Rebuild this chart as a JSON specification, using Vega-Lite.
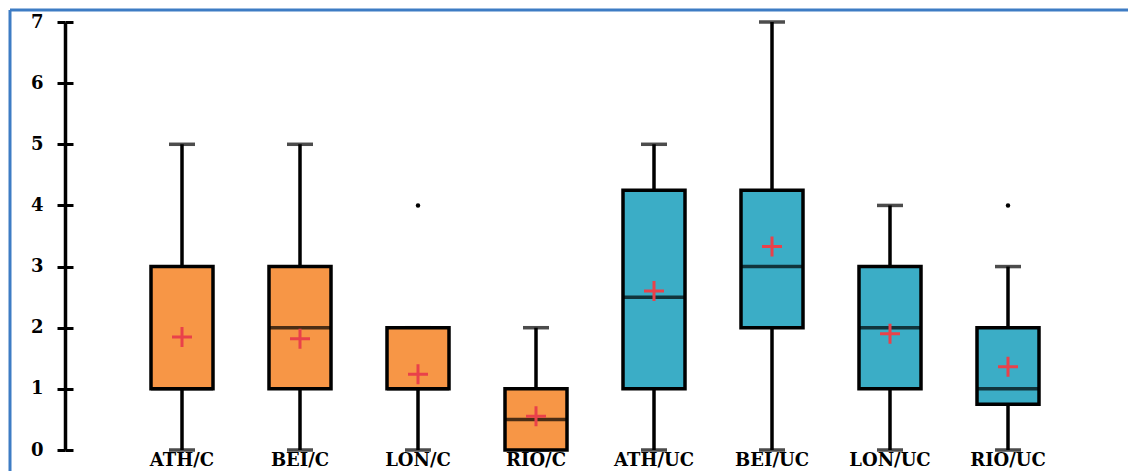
{
  "$schema": "https://vega.github.io/schema/vega-lite/v6.json",
  "autosize": "none",
  "padding": {"left": 10, "top": 10, "right": 0, "bottom": 0},
  "width": 1118,
  "height": 461,
  "background": "white",
  "config": {
    "view": {"stroke": "#3E7CC4", "strokeWidth": 3, "strokeDash": [1118, 1579, 461, 0]},
    "axis": {"labelFont": "DejaVu Serif", "labelFontWeight": "bold", "labelColor": "black", "grid": false, "title": null}
  },
  "datasets": {
    "stats": [
      {"cat": "ATH/C", "grp": "C", "min": 0, "q1": 1, "median": 1, "q3": 3, "max": 5, "mean": 1.85},
      {"cat": "BEI/C", "grp": "C", "min": 0, "q1": 1, "median": 2, "q3": 3, "max": 5, "mean": 1.82},
      {"cat": "LON/C", "grp": "C", "min": 0, "q1": 1, "median": 1, "q3": 2, "max": 2, "mean": 1.24},
      {"cat": "RIO/C", "grp": "C", "min": 0, "q1": 0, "median": 0.5, "q3": 1, "max": 2, "mean": 0.55},
      {"cat": "ATH/UC", "grp": "UC", "min": 0, "q1": 1, "median": 2.5, "q3": 4.25, "max": 5, "mean": 2.6},
      {"cat": "BEI/UC", "grp": "UC", "min": 0, "q1": 2, "median": 3, "q3": 4.25, "max": 7, "mean": 3.33},
      {"cat": "LON/UC", "grp": "UC", "min": 0, "q1": 1, "median": 2, "q3": 3, "max": 4, "mean": 1.9},
      {"cat": "RIO/UC", "grp": "UC", "min": 0, "q1": 0.75, "median": 1, "q3": 2, "max": 3, "mean": 1.36}
    ],
    "outliers": [
      {"cat": "LON/C", "value": 4},
      {"cat": "RIO/UC", "value": 4}
    ]
  },
  "data": {"name": "stats"},
  "encoding": {
    "x": {
      "field": "cat", "type": "nominal",
      "sort": ["ATH/C", "BEI/C", "LON/C", "RIO/C", "ATH/UC", "BEI/UC", "LON/UC", "RIO/UC"],
      "scale": {"range": [113, 1057], "paddingInner": 0, "paddingOuter": 0},
      "axis": {"orient": "bottom", "offset": -21, "domain": false, "ticks": false, "labelAngle": 0, "labelFontSize": 18, "labelPadding": 1}
    }
  },
  "layer": [
    {
      "mark": {"type": "rule", "color": "black", "strokeWidth": 3.5},
      "encoding": {
        "y": {"field": "min", "type": "quantitative",
          "scale": {"domain": [0, 7], "range": [440, 12], "nice": false, "zero": false},
          "axis": {"orient": "left", "offset": -55, "values": [0, 1, 2, 3, 4, 5, 6, 7], "domainColor": "black", "domainWidth": 3.5, "tickColor": "black", "tickWidth": 3, "tickSize": 8, "labelFontSize": 18, "labelPadding": 14}},
        "y2": {"field": "max"}
      }
    },
    {
      "mark": {"type": "tick", "color": "black", "size": 26, "thickness": 3.5},
      "encoding": {
        "y": {"field": "min", "type": "quantitative",
          "axis": {"orient": "left", "offset": -63, "values": [0, 1, 2, 3, 4, 5, 6, 7], "domain": false, "labels": false, "tickColor": "black", "tickWidth": 3, "tickSize": 8}}
      }
    },
    {
      "mark": {"type": "tick", "color": "black", "size": 26, "thickness": 3.5},
      "encoding": {"y": {"field": "max", "type": "quantitative", "axis": null}}
    },
    {
      "mark": {"type": "bar", "size": 62, "stroke": "black", "strokeWidth": 3.5},
      "encoding": {
        "y": {"field": "q1", "type": "quantitative", "axis": null},
        "y2": {"field": "q3"},
        "color": {"field": "grp", "type": "nominal", "scale": {"domain": ["C", "UC"], "range": ["#F79646", "#3BADC6"]}, "legend": null}
      }
    },
    {
      "mark": {"type": "tick", "color": "black", "size": 62, "thickness": 3.5},
      "encoding": {"y": {"field": "median", "type": "quantitative", "axis": null}}
    },
    {
      "mark": {"type": "point", "shape": "M-1,0H1M0,-1V1", "filled": false, "stroke": "#E9414A", "strokeWidth": 3, "size": 400, "opacity": 1},
      "encoding": {"y": {"field": "mean", "type": "quantitative", "axis": null}}
    },
    {
      "data": {"name": "outliers"},
      "mark": {"type": "circle", "color": "black", "size": 20, "opacity": 1},
      "encoding": {"y": {"field": "value", "type": "quantitative", "axis": null}}
    }
  ],
  "resolve": {"axis": {"y": "independent"}}
}
